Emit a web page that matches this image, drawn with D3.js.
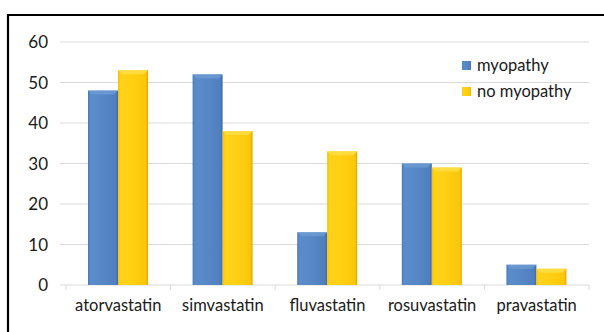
<!DOCTYPE html>
<html><head><meta charset="utf-8">
<script src="https://cdn.jsdelivr.net/npm/d3@7"></script>
<style>body{margin:0;background:#fff}svg{display:block}</style>
</head><body>
<svg id="c" width="604" height="332"></svg>
<script>
const categories = ["atorvastatin","simvastatin","fluvastatin","rosuvastatin","pravastatin"];
const seriesNames = ["myopathy","no myopathy"];
const myopathy = [48,52,13,30,5];
const noMyopathy = [53,38,33,29,4];
const yTicks = [0,10,20,30,40,50,60];

const svg = d3.select("#c");
const font = "Lato, 'Open Sans', sans-serif";
const defs = svg.append("defs");
function grad(id, stops){
  const g = defs.append("linearGradient").attr("id", id).attr("x1","0").attr("x2","1").attr("y1","0").attr("y2","0");
  stops.forEach(s => g.append("stop").attr("offset", s[0]).attr("stop-color", s[1]));
}
grad("gBlue", [[0,"#4a79b8"],[0.08,"#5a8ccb"],[0.5,"#5787c6"],[0.92,"#4f7fbf"],[1,"#3d6aa5"]]);
grad("gYel", [[0,"#f5bf00"],[0.08,"#ffd21a"],[0.5,"#ffcf12"],[0.92,"#fcc60a"],[1,"#e0a800"]]);
const fills = ["url(#gBlue)","url(#gYel)"];
const tops = ["#6d9bd4","#ffe04a"];

// frame
svg.append("path").attr("d","M8,332 V15 H604").attr("fill","none").attr("stroke","#000").attr("stroke-width",2.2);

const y = d3.scaleLinear().domain([0,60]).range([285,42]);
const x = d3.scaleBand().domain(categories).range([66,589]);
const x1 = d3.scaleBand().domain(seriesNames).range([22, 82]);

// gridlines
svg.append("g").selectAll("line").data(yTicks).join("line")
  .attr("x1",60).attr("x2",589).attr("y1",d=>y(d)).attr("y2",d=>y(d))
  .attr("stroke","#d9d9d9").attr("stroke-width",1.2);
// category ticks
svg.append("g").selectAll("line").data(categories.map(c=>x(c)).concat([589])).join("line")
  .attr("x1",d=>d).attr("x2",d=>d).attr("y1",y(0)).attr("y2",y(0)+5).attr("stroke","#d9d9d9");

// y axis labels
const yAxis = d3.axisLeft(y).tickValues(yTicks).tickSize(0).tickPadding(0);
const ya = svg.append("g").attr("transform","translate(48,0)").call(yAxis);
ya.select(".domain").remove();
ya.selectAll("text").attr("font-family",font).attr("font-size",17).attr("fill","#1a1a1a").attr("dy","0.35em");

// x labels
svg.append("g").selectAll("text").data(categories).join("text")
  .attr("x",d=>x(d)+x.bandwidth()/2).attr("y",311).attr("text-anchor","middle")
  .attr("font-family",font).attr("font-size",16.5).attr("fill","#1a1a1a").text(d=>d);

// bars
const data = categories.map((c,i)=>({c, vals:[myopathy[i], noMyopathy[i]]}));
const groups = svg.append("g").selectAll("g").data(data).join("g").attr("transform",d=>`translate(${x(d.c)},0)`);
groups.each(function(d){
  const g = d3.select(this);
  d.vals.forEach((v,j)=>{
    const bx = x1(seriesNames[j]), bw = x1.bandwidth(), by = y(v), bh = y(0)-y(v);
    g.append("rect").attr("x",bx).attr("y",by).attr("width",bw).attr("height",bh).attr("fill",fills[j]);
    g.append("path").attr("d",`M${bx},${by} H${bx+bw} L${bx+bw-4},${by+4} H${bx+4} Z`).attr("fill",tops[j]).attr("opacity",0.8);
  });
});

// legend
const lg = svg.append("g").attr("transform","translate(462,61)");
seriesNames.forEach((s,i)=>{
  lg.append("rect").attr("x",0).attr("y",i*26).attr("width",9).attr("height",9).attr("fill",fills[i]);
  lg.append("text").attr("x",15).attr("y",i*26+4.5).attr("dy","0.35em").attr("font-family",font).attr("font-size",16.5).attr("fill","#1a1a1a").text(s);
});
</script>
</body></html>
